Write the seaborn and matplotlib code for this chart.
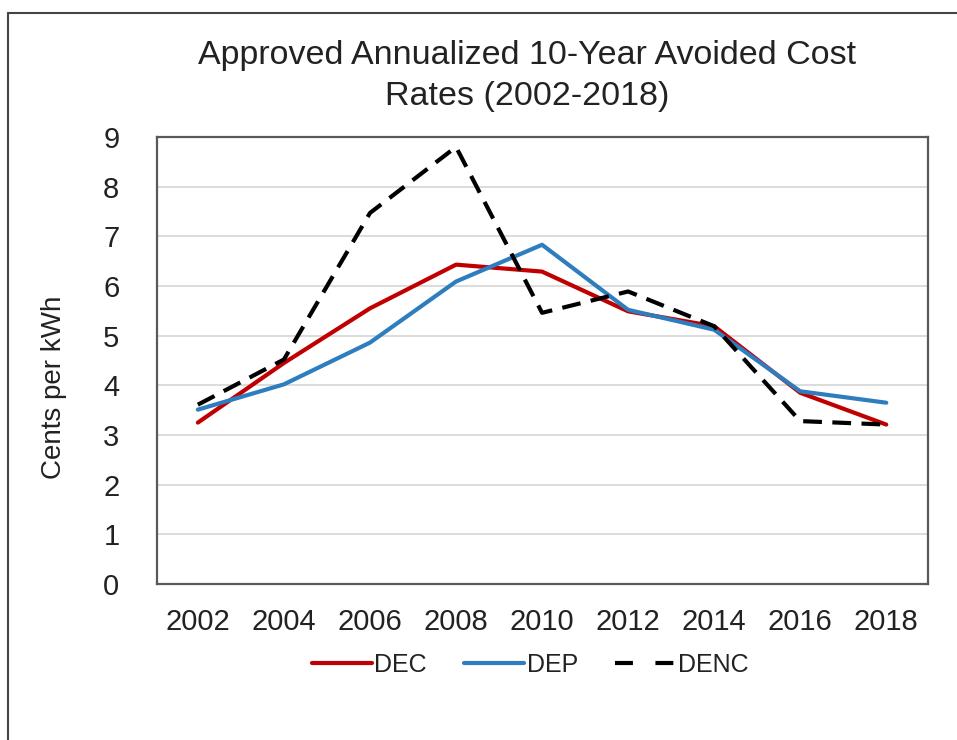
import numpy as np
import pandas as pd
import matplotlib.pyplot as plt
import seaborn as sns

years = [2002, 2004, 2006, 2008, 2010, 2012, 2014, 2016, 2018]
dec = [3.25, 4.45, 5.55, 6.43, 6.29, 5.49, 5.19, 3.85, 3.21]
dep = [3.51, 4.02, 4.86, 6.09, 6.83, 5.52, 5.12, 3.88, 3.65]
denc = [3.61, 4.52, 7.47, 8.80, 5.46, 5.89, 5.19, 3.28, 3.21]
series = ["DEC", "DEP", "DENC"]
colors = {"DEC": "#c00000", "DEP": "#2e7ebf", "DENC": "#000000"}

df = pd.DataFrame({
    "year": years * 3,
    "cents": dec + dep + denc,
    "utility": np.repeat(series, len(years)),
})

sns.set_style("white")
plt.rcParams["font.family"] = ["Liberation Sans", "DejaVu Sans"]

fig = plt.figure(figsize=(9.57, 7.40), dpi=100)
ax = fig.add_axes([157 / 957, 1 - 584 / 740, (928 - 157) / 957, (584 - 137) / 740])

sns.lineplot(data=df, x="year", y="cents", hue="utility", style="utility",
             palette=colors, dashes={"DEC": "", "DEP": "", "DENC": (4.5, 2.5)},
             hue_order=series, style_order=series, linewidth=3, ax=ax)

ax.set_xlim(2001.05, 2018.97)
ax.set_ylim(0, 9)
ax.set_xticks(years)
ax.set_yticks(range(0, 10))
ax.yaxis.grid(True, color="#d9d9d9", linewidth=1.3)
ax.set_axisbelow(True)
for sp in ax.spines.values():
    sp.set_color("#595959")
    sp.set_linewidth(1.6)
ax.tick_params(axis="both", length=0, labelsize=21, colors="#222222")
ax.tick_params(axis="y", pad=27)
ax.tick_params(axis="x", pad=17)
ax.set_xlabel("")
ax.set_ylabel("")

fig.text(54 / 957, 1 - 387 / 740, "Cents per kWh", rotation=90, ha="center",
         va="center", fontsize=20, color="#222222")
fig.text(527 / 957, 1 - 76 / 740, "Approved Annualized 10-Year Avoided Cost\nRates (2002-2018)",
         ha="center", va="center", fontsize=24.5, color="#222222", linespacing=1.4)

handles, labels = ax.get_legend_handles_labels()
ax.get_legend().remove()
leg = fig.legend(handles, labels, loc="center", bbox_to_anchor=(530 / 957, 1 - 665 / 740),
                 ncol=3, frameon=False, fontsize=18, handlelength=2.4, handletextpad=0.1,
                 columnspacing=1.5, labelcolor="#222222")
leg.get_lines()[2].set_dashes((4.3, 5.4))

# partial frame around the picture (left and top edges)
fig.add_artist(plt.Line2D([8 / 957, 8 / 957], [0, 1 - 13 / 740], color="#444444",
                          linewidth=1.5, transform=fig.transFigure))
fig.add_artist(plt.Line2D([8 / 957, 1], [1 - 13 / 740, 1 - 13 / 740], color="#444444",
                          linewidth=1.5, transform=fig.transFigure))

fig.savefig("out.png", dpi=100)
